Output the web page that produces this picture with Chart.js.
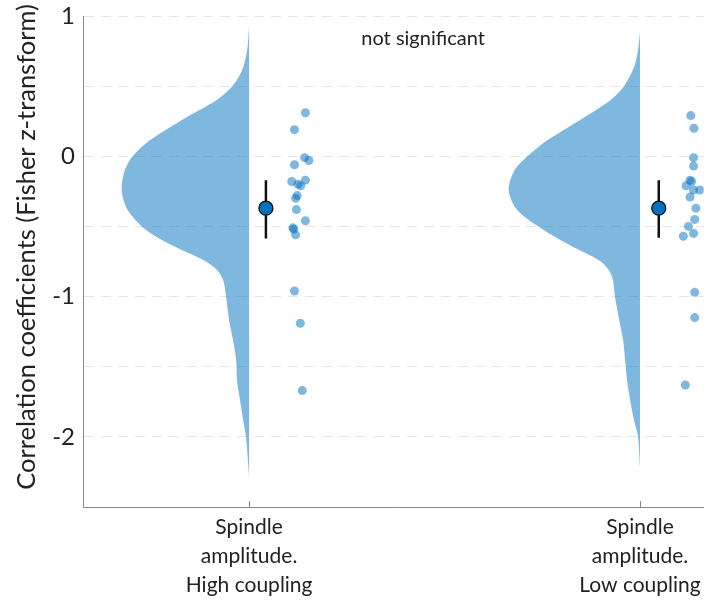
<!DOCTYPE html>
<html>
<head>
<meta charset="utf-8">
<script src="https://cdn.jsdelivr.net/npm/chart.js@4/dist/chart.umd.min.js"></script>
<style>
  html, body { margin: 0; padding: 0; background: #fff; }
  #wrap { width: 712px; height: 600px; }
</style>
</head>
<body>
<div id="wrap"><canvas id="chart" width="712" height="600"></canvas></div>
<script>
// group positions on the x axis and their labels
const groupX = [1, 2];
const groupLabels = [
  ["Spindle", "amplitude.", "High coupling"],
  ["Spindle", "amplitude.", "Low coupling"]
];
const yTitle = "Correlation coefficients (Fisher z-transform)";

// half-violin outline: y values and width to the left of the group centre (x units)
const violinY1 = [0.936, 0.757, 0.614, 0.5, 0.4, 0.279, 0.114, 0, -0.1, -0.243, -0.386, -0.529, -0.636, -0.743, -0.814, -0.886, -1.0, -1.171, -1.314, -1.457, -1.6, -1.743, -1.886, -2.0, -2.171, -2.293];
const violinW1 = [0, 0.005, 0.018, 0.043, 0.084, 0.160, 0.254, 0.298, 0.318, 0.326, 0.310, 0.262, 0.196, 0.115, 0.081, 0.066, 0.059, 0.051, 0.041, 0.033, 0.031, 0.023, 0.015, 0.008, 0.003, 0];
const violinY2 = [0.886, 0.757, 0.636, 0.5, 0.4, 0.279, 0.114, 0, -0.1, -0.243, -0.386, -0.529, -0.636, -0.743, -0.814, -0.886, -1.0, -1.171, -1.314, -1.457, -1.6, -1.743, -1.886, -2.0, -2.221];
const violinW2 = [0, 0.005, 0.015, 0.041, 0.076, 0.142, 0.237, 0.288, 0.321, 0.336, 0.313, 0.244, 0.178, 0.104, 0.079, 0.069, 0.064, 0.053, 0.043, 0.038, 0.033, 0.025, 0.015, 0.005, 0];

// raw points (jittered x, value)
const pointsX1 = [1.144, 1.116, 1.142, 1.153, 1.116, 1.109, 1.125, 1.132, 1.144, 1.123, 1.119, 1.121, 1.144, 1.112, 1.114, 1.119, 1.116, 1.131, 1.136];
const pointsY1 = [0.31, 0.19, -0.01, -0.03, -0.06, -0.18, -0.20, -0.21, -0.17, -0.28, -0.30, -0.38, -0.46, -0.51, -0.52, -0.56, -0.96, -1.19, -1.67];
const pointsX2 = [2.130, 2.138, 2.137, 2.137, 2.128, 2.132, 2.118, 2.137, 2.153, 2.128, 2.143, 2.140, 2.124, 2.111, 2.137, 2.140, 2.140, 2.116];
const pointsY2 = [0.29, 0.20, -0.01, -0.07, -0.17, -0.18, -0.21, -0.24, -0.24, -0.29, -0.37, -0.45, -0.50, -0.57, -0.55, -0.97, -1.15, -1.63];

// mean and interval
const meanX = [1.043, 2.048];
const meanY = [-0.37, -0.37];
const ciLow = [-0.586, -0.58];
const ciHigh = [-0.17, -0.17];

const FONT = "Lato, 'Open Sans', sans-serif";
const violinColor = "rgba(0,114,189,0.5)";
const dotColor = "rgba(0,114,189,0.5)";

const outline = (cx, ys, ws) => ys.map((y, i) => ({ x: cx - ws[i], y }));
const zip = (xs, ys) => xs.map((x, i) => ({ x, y: ys[i] }));

const violinStyle = {
  showLine: true, fill: "shape", backgroundColor: violinColor,
  borderWidth: 0, borderColor: "rgba(0,0,0,0)", pointRadius: 0, tension: 0.3, order: 4
};
const errStyle = {
  showLine: true, borderColor: "#111", borderWidth: 2.5, pointRadius: 0, order: 1
};

const datasets = [
  Object.assign({ data: outline(groupX[0], violinY1, violinW1) }, violinStyle),
  Object.assign({ data: outline(groupX[1], violinY2, violinW2) }, violinStyle),
  { data: zip(pointsX1, pointsY1), pointRadius: 4.5, backgroundColor: dotColor, borderWidth: 0, order: 3 },
  { data: zip(pointsX2, pointsY2), pointRadius: 4.5, backgroundColor: dotColor, borderWidth: 0, order: 3 },
  Object.assign({ data: [{ x: meanX[0], y: ciLow[0] }, { x: meanX[0], y: ciHigh[0] }] }, errStyle),
  Object.assign({ data: [{ x: meanX[1], y: ciLow[1] }, { x: meanX[1], y: ciHigh[1] }] }, errStyle),
  { data: zip(meanX, meanY), pointRadius: 7, backgroundColor: "#0072BD", borderColor: "#111", borderWidth: 1.3, order: 0 }
];

// annotation text, y title (placed like the original, a bit above centre) and inward ticks
const extras = {
  id: "extras",
  afterDraw(chart) {
    const { ctx, scales: { x, y }, chartArea } = chart;
    ctx.save();
    ctx.strokeStyle = "#888";
    ctx.lineWidth = 1;
    groupX.forEach(v => {
      const px = Math.round(x.getPixelForValue(v)) + 0.5;
      ctx.beginPath();
      ctx.moveTo(px, chartArea.bottom);
      ctx.lineTo(px, chartArea.bottom - 6);
      ctx.stroke();
    });
    ctx.fillStyle = "#222";
    ctx.font = "20px " + FONT;
    ctx.textAlign = "center";
    ctx.textBaseline = "middle";
    ctx.fillText("not significant", x.getPixelForValue(1.445), y.getPixelForValue(0.84));

    ctx.translate(27, 247);
    ctx.rotate(-Math.PI / 2);
    ctx.font = "25.5px " + FONT;
    ctx.fillText(yTitle, 0, 0);
    ctx.restore();
  }
};

new Chart(document.getElementById("chart"), {
  type: "scatter",
  data: { datasets },
  plugins: [extras],
  options: {
    responsive: false,
    animation: false,
    events: [],
    layout: { padding: { left: 0, right: 5, top: 16, bottom: 0 } },
    plugins: { legend: { display: false }, tooltip: { enabled: false } },
    scales: {
      x: {
        type: "linear",
        min: 0.575,
        max: 2.163,
        afterBuildTicks: (s) => { s.ticks = groupX.map(v => ({ value: v })); },
        afterFit: (s) => { s.height = 93; s.paddingLeft = 0; s.paddingRight = 0; },
        grid: { display: false },
        border: { color: "#888", width: 1 },
        ticks: {
          padding: -2,
          color: "#222",
          font: { family: FONT, size: 21, lineHeight: 1.38 },
          maxRotation: 0,
          callback: (v) => groupLabels[groupX.indexOf(v)] || ""
        }
      },
      y: {
        min: -2.5,
        max: 1,
        afterFit: (s) => { s.width = 83; s.paddingTop = 0; s.paddingBottom = 0; },
        grid: { color: "#e6e6e6", lineWidth: 1, drawTicks: false },
        border: { color: "#888", width: 1, dash: [10, 7] },
        ticks: {
          stepSize: 0.5,
          padding: 8,
          color: "#222",
          font: { family: FONT, size: 24 },
          callback: (v) => Number.isInteger(v) ? String(v) : ""
        }
      }
    }
  }
});
</script>
</body>
</html>
